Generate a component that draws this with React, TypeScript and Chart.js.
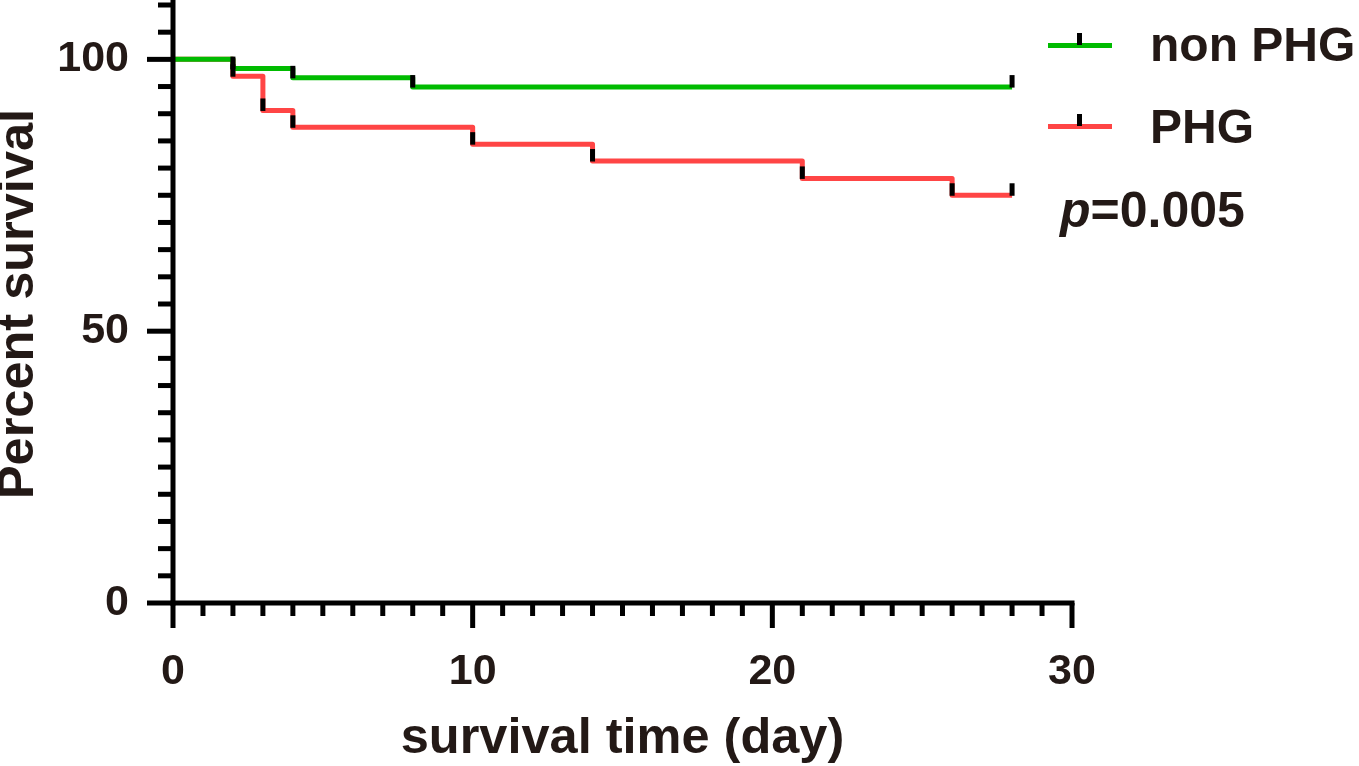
import { useEffect, useRef } from "react";
import { Chart, registerables } from "chart.js";

Chart.register(...registerables);

// survival data (percent)
const nonPhgDays = [0, 2, 4, 8, 28];
const nonPhgSurvival = [100, 98.3, 96.6, 94.9, 94.9];
const nonPhgCensored = [2, 4, 8, 28];

const phgDays = [0, 2, 3, 4, 10, 14, 21, 26, 28];
const phgSurvival = [100, 96.9, 90.6, 87.5, 84.4, 81.3, 78.1, 75.0, 75.0];
const phgCensored = [2, 3, 4, 10, 14, 21, 26, 28];

const seriesNames = ["non PHG", "PHG"];
const pValueText = "0.005";

const xTickLabels = [0, 10, 20, 30];
const yTickLabels = [0, 50, 100];

const FONT = "'Liberation Sans', Arial, Helvetica, sans-serif";
const TEXT_COLOR = "#231916";
const AXIS_COLOR = "#000000";
const GREEN = "#00bb00";
const RED = "#ff4545";

const stepValue = (days: number[], values: number[], t: number) => {
  let v = values[0];
  for (let i = 0; i < days.length; i++) {
    if (days[i] <= t) v = values[i];
  }
  return v;
};

// censor ticks drawn on top of the curves
const censorPlugin = {
  id: "censorTicks",
  afterDatasetsDraw(chart: any) {
    const { ctx } = chart;
    const xs = chart.scales.x;
    const ys = chart.scales.y;
    ctx.save();
    ctx.fillStyle = AXIS_COLOR;
    chart.data.datasets.forEach((ds: any) => {
      const days = ds.data.map((p: any) => p.x);
      const values = ds.data.map((p: any) => p.y);
      ds.censored.forEach((t: number) => {
        const px = xs.getPixelForValue(t);
        const py = ys.getPixelForValue(stepValue(days, values, t));
        ctx.fillRect(px - 2.5, py - 12, 5, 12.5);
      });
    });
    ctx.restore();
  },
};

// Prism-like axes: thick lines, long major ticks, short minor ticks
const axesPlugin = {
  id: "prismAxes",
  afterDraw(chart: any) {
    const { ctx } = chart;
    const xs = chart.scales.x;
    const ys = chart.scales.y;
    const x0 = xs.getPixelForValue(xs.min);
    const x1 = xs.getPixelForValue(xs.max);
    const y0 = ys.getPixelForValue(ys.min);
    ctx.save();
    ctx.fillStyle = AXIS_COLOR;
    ctx.fillRect(x0 - 2.5, 0, 5, y0 + 2.5);
    ctx.fillRect(x0 - 2.5, y0 - 2.5, x1 - x0 + 5, 5);
    for (let v = xs.min; v <= xs.max; v += 1) {
      const px = xs.getPixelForValue(v);
      const len = xTickLabels.includes(v) ? 25 : 13;
      ctx.fillRect(px - 2.5, y0, 5, len);
    }
    for (let v = ys.min; v <= ys.max; v += 5) {
      const py = ys.getPixelForValue(v);
      const len = yTickLabels.includes(v) ? 26 : 15;
      ctx.fillRect(x0 - len, py - 2.5, len, 5);
    }
    ctx.restore();
  },
};

const App = () => {
  const chartRef = useRef<HTMLCanvasElement>(null);
  const chartInstanceRef = useRef<Chart | null>(null);

  useEffect(() => {
    document.body.style.margin = "0";
    const ctx = chartRef.current?.getContext("2d");
    if (!ctx) return;

    chartInstanceRef.current = new Chart(ctx, {
      type: "line",
      data: {
        datasets: [
          {
            label: seriesNames[0],
            data: nonPhgDays.map((d, i) => ({ x: d, y: nonPhgSurvival[i] })),
            censored: nonPhgCensored,
            borderColor: GREEN,
            borderWidth: 5,
            stepped: true,
            pointRadius: 0,
            borderJoinStyle: "round",
          } as any,
          {
            label: seriesNames[1],
            data: phgDays.map((d, i) => ({ x: d, y: phgSurvival[i] })),
            censored: phgCensored,
            borderColor: RED,
            borderWidth: 5,
            stepped: true,
            pointRadius: 0,
            borderJoinStyle: "round",
          } as any,
        ],
      },
      options: {
        responsive: false,
        animation: false,
        layout: { padding: { top: 5, right: 287, bottom: 0, left: 0 } },
        plugins: {
          legend: { display: false },
          tooltip: { enabled: false },
        },
        scales: {
          x: {
            type: "linear",
            min: 0,
            max: 30,
            grid: { display: false },
            border: { display: false },
            afterFit: (scale: any) => {
              scale.height = 163;
              scale.paddingLeft = 0;
              scale.paddingRight = 0;
            },
            ticks: {
              stepSize: 1,
              autoSkip: false,
              maxRotation: 0,
              padding: 35,
              color: TEXT_COLOR,
              font: { family: FONT, size: 43, weight: "bold" },
              callback: (v: any) => (xTickLabels.includes(Number(v)) ? String(v) : null),
            },
            title: {
              display: true,
              text: "survival time (day)",
              color: TEXT_COLOR,
              padding: 0,
              font: { family: FONT, size: 50.5, weight: "bold", lineHeight: 1.07 },
            },
          },
          y: {
            min: 0,
            max: 110,
            grid: { display: false },
            border: { display: false },
            afterFit: (scale: any) => {
              scale.width = 173;
              scale.paddingTop = 0;
              scale.paddingBottom = 0;
            },
            ticks: {
              stepSize: 5,
              autoSkip: false,
              padding: 36,
              color: TEXT_COLOR,
              font: { family: FONT, size: 43, weight: "bold" },
              callback: (v: any) => (yTickLabels.includes(Number(v)) ? String(v) : null),
            },
            title: {
              display: true,
              text: "Percent survival",
              color: TEXT_COLOR,
              padding: 0,
              font: { family: FONT, size: 50.5, weight: "bold", lineHeight: 0.74 },
            },
          },
        },
      },
      plugins: [censorPlugin, axesPlugin],
    });

    return () => {
      if (chartInstanceRef.current) {
        chartInstanceRef.current.destroy();
        chartInstanceRef.current = null;
      }
    };
  }, []);

  const legendText = {
    position: "absolute" as const,
    left: 1150,
    fontFamily: FONT,
    fontWeight: "bold" as const,
    fontSize: 48,
    lineHeight: "48px",
    color: TEXT_COLOR,
    whiteSpace: "nowrap" as const,
  };

  const legendLine = (color: string, cy: number) => (
    <>
      <div style={{ position: "absolute", left: 1048, top: cy - 2.5, width: 64, height: 5, background: color }} />
      <div style={{ position: "absolute", left: 1077, top: cy - 12, width: 5, height: 12, background: AXIS_COLOR }} />
    </>
  );

  return (
    <div style={{ position: "relative", width: 1359, height: 766, background: "#fff", overflow: "hidden" }}>
      <canvas ref={chartRef} width={1359} height={766} style={{ position: "absolute", left: 0, top: 0 }} />
      {legendLine(GREEN, 45)}
      <div style={{ ...legendText, top: 21 }}>{seriesNames[0]}</div>
      {legendLine(RED, 126)}
      <div style={{ ...legendText, top: 103 }}>{seriesNames[1]}</div>
      <div style={{ ...legendText, left: 1060, top: 185, fontSize: 50, lineHeight: "50px" }}>
        <i>p</i>={pValueText}
      </div>
    </div>
  );
};

export default App;
